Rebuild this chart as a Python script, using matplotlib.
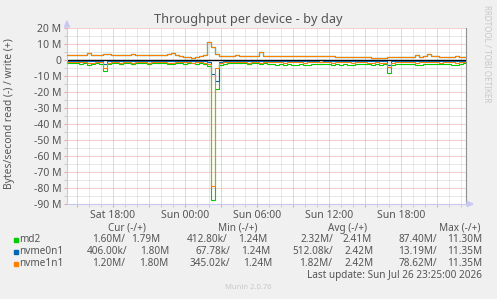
import matplotlib
matplotlib.use("Agg")
import matplotlib.pyplot as plt
import numpy as np
from matplotlib.patches import Rectangle, Polygon

# time axis: hours since Sat 00:00, one sample every 20 minutes
start_hour = 14 + 10 / 60   # Sat 14:10
step_hour = 20 / 60
end_hour = 47 + 25 / 60     # Sun 23:25

# values in MB/s, write (+) and read (-)
write_nvme1n1 = [
    3.0, 3.1, 3.0, 3.2, 3.0, 4.2, 3.3, 3.0, 3.1, 4.0,
    3.6, 3.0, 3.1, 3.0, 3.0, 3.2, 3.9, 3.4, 3.0, 3.0,
    3.0, 3.1, 3.0, 3.0, 3.1, 3.8, 4.5, 3.3, 2.4, 1.8,
    1.6, 1.5, 1.7, 2.6, 3.0, 11.3, 8.0, 3.6, 2.8, 2.4,
    2.3, 2.4, 3.0, 2.4, 2.3, 2.3, 2.4, 2.3, 5.3, 2.6,
    2.3, 2.4, 2.3, 2.5, 2.3, 2.4, 2.3, 2.3, 2.5, 2.4,
    2.5, 2.6, 2.6, 2.5, 2.6, 2.5, 2.4, 2.1, 2.0, 2.1,
    2.0, 2.1, 2.0, 2.0, 2.1, 2.0, 1.4, 1.3, 1.3, 1.4,
    2.1, 2.0, 2.1, 2.0, 2.1, 2.0, 2.1, 3.0, 2.1, 2.2,
    4.0, 2.4, 2.8, 2.1, 2.0, 2.1, 2.1, 2.8, 2.1, 2.0,
]
# raid1: md2 and both members see the same writes
write_md2 = list(write_nvme1n1)
write_nvme0n1 = list(write_nvme1n1)

read_md2 = [
    -1.9, -2.0, -2.1, -2.3, -1.8, -2.9, -2.3, -1.9, -2.2, -7.0,
    -2.4, -1.9, -1.9, -2.3, -1.9, -2.0, -2.7, -2.1, -1.8, -2.0,
    -2.3, -1.8, -2.0, -2.1, -1.8, -2.4, -2.3, -1.9, -1.8, -2.2,
    -2.0, -2.1, -2.2, -2.0, -2.6, -3.5, -87.4, -18.0, -3.2, -2.2,
    -2.0, -1.8, -2.1, -2.0, -1.8, -2.2, -2.0, -1.8, -2.5, -2.1,
    -2.6, -2.8, -3.0, -2.7, -3.1, -2.6, -2.9, -3.0, -2.7, -3.2,
    -2.9, -2.7, -2.4, -2.6, -2.8, -2.5, -2.9, -2.6, -3.0, -2.7,
    -2.9, -3.2, -2.6, -2.8, -2.5, -2.7, -2.9, -2.6, -3.0, -2.8,
    -8.0, -2.9, -2.6, -2.5, -2.8, -2.7, -2.4, -3.0, -3.3, -2.6,
    -2.7, -2.5, -2.8, -2.6, -2.4, -2.7, -2.9, -3.4, -2.3, -1.6,
]
read_nvme0n1 = [
    -0.5, -0.4, -0.6, -0.5, -0.4, -0.7, -0.5, -0.4, -0.6, -2.4,
    -0.5, -0.4, -0.5, -0.6, -0.4, -0.5, -0.7, -0.5, -0.4, -0.5,
    -0.6, -0.4, -0.5, -0.5, -0.4, -0.6, -0.5, -0.4, -0.5, -0.6,
    -0.5, -0.4, -0.6, -0.5, -0.7, -1.0, -9.0, -13.2, -1.2, -0.6,
    -0.5, -0.4, -0.6, -0.5, -0.4, -0.5, -0.6, -0.4, -0.7, -0.5,
    -0.6, -0.5, -0.7, -0.6, -0.5, -0.6, -0.7, -0.5, -0.6, -0.7,
    -0.8, -0.9, -0.8, -1.0, -0.9, -0.8, -0.7, -0.6, -0.7, -0.6,
    -0.5, -0.7, -0.6, -0.5, -0.6, -0.7, -0.8, -0.6, -0.9, -0.7,
    -3.2, -0.7, -0.6, -0.5, -0.6, -0.7, -0.5, -0.6, -0.8, -0.6,
    -0.7, -0.5, -0.6, -0.7, -0.5, -0.6, -0.7, -0.8, -0.6, -0.4,
]
read_nvme1n1 = [
    -1.2, -1.4, -1.3, -1.5, -1.3, -2.0, -1.6, -1.4, -1.5, -4.8,
    -1.8, -1.4, -1.3, -1.6, -1.4, -1.3, -1.8, -1.5, -1.3, -1.4,
    -1.6, -1.3, -1.4, -1.5, -1.3, -1.7, -1.6, -1.4, -1.3, -1.5,
    -1.4, -1.6, -1.5, -1.4, -1.8, -2.2, -78.6, -5.0, -1.8, -1.5,
    -1.4, -1.3, -1.5, -1.4, -1.3, -1.6, -1.4, -1.3, -1.8, -1.5,
    -1.4, -1.3, -1.5, -1.4, -1.6, -1.3, -1.5, -1.4, -1.3, -1.6,
    -1.4, -1.5, -1.3, -1.4, -1.5, -1.3, -1.6, -1.4, -1.5, -1.3,
    -1.4, -1.6, -1.3, -1.5, -1.4, -1.6, -1.8, -1.5, -2.0, -1.6,
    -4.2, -1.6, -1.4, -1.3, -1.5, -1.4, -1.3, -1.6, -1.4, -1.3,
    -1.5, -1.4, -1.3, -1.6, -1.4, -1.3, -1.5, -1.6, -1.4, -1.2,
]

devices = ["md2", "nvme0n1", "nvme1n1"]
colors = ["#00cc00", "#0066b3", "#ff8000"]
legend_rows = [
    ["1.60M/", "1.79M", "412.80k/", "1.24M", "2.32M/", "2.41M", "87.40M/", "11.30M"],
    ["406.00k/", "1.80M", "67.78k/", "1.24M", "512.08k/", "2.42M", "13.19M/", "11.35M"],
    ["1.20M/", "1.80M", "345.02k/", "1.24M", "1.82M/", "2.42M", "78.62M/", "11.35M"],
]
legend_headers = ["Cur (-/+)", "Min (-/+)", "Avg (-/+)", "Max (-/+)"]
xtick_hours = [18, 24, 30, 36, 42]
xtick_labels = ["Sat 18:00", "Sun 00:00", "Sun 06:00", "Sun 12:00", "Sun 18:00"]

W, H = 497, 299
M = 1e6
txt = "#555555"
fs = 7.2
plt.rcParams['font.family'] = ['Noto Sans', 'DejaVu Sans']


def px(x, y):
    return x / W, 1 - y / H


fig = plt.figure(figsize=(W / 100, H / 100), dpi=100, facecolor="#f0f0f0")
x0, x1, y0, y1 = 67, 466, 28, 204
ax = fig.add_axes([x0 / W, 1 - y1 / H, (x1 - x0) / W, (y1 - y0) / H])
ax.set_facecolor("white")

edges = start_hour + np.arange(len(write_nvme1n1) + 1) * step_hour
ax.axhline(0, color="black", lw=1.0, zorder=2)
reads = [read_md2, read_nvme0n1, read_nvme1n1]
writes = [write_md2, write_nvme0n1, write_nvme1n1]
for r, w, c in zip(reads, writes, colors):
    for vals in (r, w):
        st = ax.stairs(np.array(vals) * M, edges, baseline=None, color=c, lw=0.8,
                       zorder=3)
        st.set_snap(True)

ax.set_xlim(start_hour, end_hour)
ax.set_ylim(-90 * M, 20 * M)

ax.set_xticks(np.arange(15, 48, 3))
ax.set_xticks(np.arange(15, 48, 1), minor=True)
ax.set_xticklabels([xtick_labels[xtick_hours.index(h)] if h in xtick_hours else ""
                    for h in range(15, 48, 3)])
yt = np.arange(-90, 21, 10)
ax.set_yticks(yt * M)
ax.set_yticklabels([f"{v} M" if v != 0 else "0" for v in yt])
ax.set_yticks(np.arange(-90, 21, 5) * M, minor=True)

ax.grid(which="minor", color="#d0d0d0", linestyle=(0, (1, 1)), lw=0.72)
ax.grid(which="major", color="#eda0a0", linestyle=(0, (1, 1)), lw=0.72)
ax.tick_params(which="both", length=2, width=0.7, colors="#e0a0a0", labelcolor=txt,
               labelsize=fs + 0.3, pad=2)
ax.tick_params(which="minor", colors="#c8c8c8")
ax.set_axisbelow(True)

ax.spines["top"].set_visible(False)
ax.spines["right"].set_color("#909090")
ax.spines["left"].set_color("#c8c8f0")
ax.spines["bottom"].set_color("#c8c8f0")
for s in ax.spines.values():
    s.set_linewidth(0.8)

# axis arrows
fig.add_artist(Polygon([px(64.5, 27), px(69.5, 27), px(67, 21)], closed=True,
                       transform=fig.transFigure, color="#c8c8f0"))
fig.add_artist(Polygon([px(467, 201.5), px(467, 206.5), px(473, 204)], closed=True,
                       transform=fig.transFigure, color="#c8c8f0"))

fig.text(*px(248, 20), "Throughput per device - by day", ha="center", va="center",
         fontsize=9.2, color=txt)
fig.text(*px(10, 114), "Bytes/second read (-) / write (+)", rotation=90,
         ha="center", va="center", fontsize=fs + 0.2, color=txt)
fig.text(*px(487, 5), "RRDTOOL / TOBI OETIKER", rotation=270, ha="center", va="top",
         fontsize=5.8, color="#c8c8c8")

# legend
header_right = [146, 257, 367, 480]
for h, xr in zip(legend_headers, header_right):
    fig.text(*px(xr, 228), h, ha="right", va="center", fontsize=fs, color=txt)
col_right = [
    [125, 160, 228, 267, 333, 372, 437, 482],
    [127, 169, 230, 270, 333, 374, 437, 482],
    [125, 168, 230, 272, 332, 374, 437, 482],
]
for i, (name, c, vals) in enumerate(zip(devices, colors, legend_rows)):
    yy = 239.5 + 12 * i
    fig.add_artist(Rectangle(px(14.3, yy + 2), 4 / W, 4 / H, transform=fig.transFigure,
                             color=c))
    fig.text(*px(19, yy), name, ha="left", va="center", fontsize=fs, color=txt)
    for v, xr in zip(vals, col_right[i]):
        fig.text(*px(xr, yy), v, ha="right", va="center", fontsize=fs, color=txt)

fig.text(*px(482, 275.5), "Last update: Sun Jul 26 23:25:00 2026", ha="right",
         va="center", fontsize=fs, color=txt)
fig.text(*px(248, 287.5), "Munin 2.0.76", ha="center", va="center", fontsize=5.5,
         color="#c8c8c8")

fig.savefig("out.png", dpi=100, facecolor=fig.get_facecolor())
